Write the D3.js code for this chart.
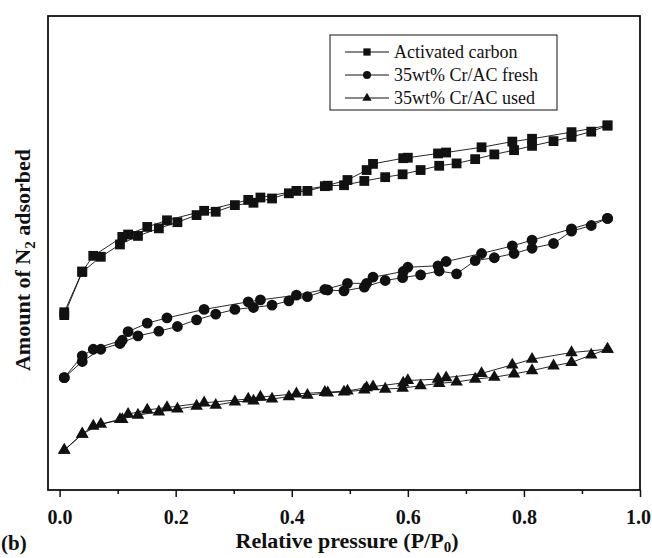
<!DOCTYPE html>
<html lang="en">
<head>
	<meta charset="UTF-8">
	<title>N2 isotherms</title>
	<style>
		body{margin:0;background:#fff;}
		text{font-family:"Liberation Serif","Times New Roman",serif;}
	</style>
</head>
<body>
</body>
<script src="https://cdn.jsdelivr.net/npm/d3@7/dist/d3.min.js"></script>
<script>
	// relative pressure of the adsorption (up) and desorption (down) points
	var adsP=[0.008,0.039,0.071,0.104,0.135,0.171,0.203,0.236,0.269,0.302,0.334,0.366,0.395,0.427,0.462,0.490,0.525,0.561,0.591,0.622,0.654,0.684,0.716,0.749,0.783,0.814,0.851,0.882,0.916,0.944];
	var desP=[0.944,0.882,0.814,0.780,0.727,0.666,0.652,0.600,0.592,0.540,0.529,0.496,0.457,0.408,0.346,0.325,0.249,0.185,0.151,0.118,0.108,0.058,0.039,0.008];

	// amount adsorbed, arbitrary units (no y scale in the original)
	var acAds=[36.9,46.0,49.2,51.8,53.6,55.2,56.5,58.0,58.7,60.1,60.6,61.5,62.6,63.1,64.2,64.3,65.2,66.0,66.6,67.5,68.4,68.9,69.8,70.8,71.7,72.6,73.6,74.5,75.6,76.9];
	var acDes=[76.9,75.5,74.1,73.5,72.3,71.2,71.0,70.1,70.0,68.8,67.5,65.4,64.1,63.1,61.7,61.2,58.9,56.9,55.5,53.9,53.4,49.4,46.1,37.5];
	var freshAds=[23.7,27.1,29.7,30.9,32.5,33.5,34.5,35.9,37.1,38.1,38.5,39.0,39.9,40.8,42.2,42.0,42.8,44.2,44.8,45.4,46.2,45.6,48.4,49.0,49.9,51.0,52.0,54.6,55.8,57.3];
	var freshDes=[57.3,55.1,52.7,51.5,49.9,48.2,47.3,47.0,46.1,44.9,43.6,43.6,42.3,41.1,40.1,39.7,38.1,36.3,35.2,33.4,31.6,29.7,28.3,23.7];
	var usedAds=[8.4,11.8,13.9,14.9,15.8,16.5,17.1,17.7,17.9,18.6,18.8,19.2,19.7,20.0,20.5,20.7,21.1,21.3,21.5,22.0,22.5,22.8,23.4,23.8,24.5,25.2,26.2,26.9,28.5,29.7];
	var usedDes=[29.7,29.0,27.6,26.4,24.6,23.7,23.4,23.1,22.6,21.8,21.6,20.9,20.6,20.3,19.6,19.2,18.4,17.4,16.9,16.0,14.9,13.5,11.8,8.4];

	var seriesNames=["Activated carbon","35wt% Cr/AC fresh","35wt% Cr/AC used"];
	var xTicks=[0,0.2,0.4,0.6,0.8,1.0];
	var xMinorTicks=[0.1,0.3,0.5,0.7,0.9];

	var width=652;
	var height=558;
	var plot={left:48,right:640,top:16,bottom:490};

	var svg=d3.select('body')
				.append('svg')
				.attr('width',width)
				.attr('height',height);

	var xScale=d3.scaleLinear()
				.domain([-0.02,1.0])
				.range([plot.left,plot.right]);
	var yScale=d3.scaleLinear()
				.domain([0,100])
				.range([plot.bottom,plot.top]);

	var series=[
		{name:seriesNames[0],shape:d3.symbolSquare,size:96,ads:acAds,des:acDes},
		{name:seriesNames[1],shape:d3.symbolCircle,size:92,ads:freshAds,des:freshDes},
		{name:seriesNames[2],shape:d3.symbolTriangle,size:68,ads:usedAds,des:usedDes}
	];

	var line=d3.line()
			.x(function(d){return xScale(d[0]);})
			.y(function(d){return yScale(d[1]);});

	series.forEach(function(s){
		var ads=adsP.map(function(p,i){return [p,s.ads[i]];});
		var des=desP.map(function(p,i){return [p,s.des[i]];});
		var g=svg.append('g');
		[ads,des].forEach(function(pts){
			g.append('path')
				.attr('d',line(pts))
				.attr('fill','none')
				.attr('stroke','#111')
				.attr('stroke-width',0.9);
		});
		g.selectAll('path.mk')
			.data(ads.concat(des))
			.enter()
			.append('path')
			.attr('class','mk')
			.attr('d',d3.symbol().type(s.shape).size(s.size))
			.attr('transform',function(d){
				return 'translate('+xScale(d[0])+','+yScale(d[1])+')';
			})
			.attr('fill','#111');
	});

	// frame
	svg.append('rect')
		.attr('x',plot.left)
		.attr('y',plot.top)
		.attr('width',plot.right-plot.left)
		.attr('height',plot.bottom-plot.top)
		.attr('fill','none')
		.attr('stroke','#111')
		.attr('stroke-width',1.8);

	var xAxis=d3.axisBottom(xScale)
			.tickValues(xTicks)
			.tickSize(7)
			.tickPadding(13)
			.tickFormat(d3.format('.1f'));
	var gx=svg.append('g')
			.attr('transform','translate(0,'+plot.bottom+')')
			.call(xAxis);
	gx.select('.domain').remove();
	gx.selectAll('line').attr('stroke','#111').attr('stroke-width',1.5);
	gx.selectAll('text')
		.attr('fill','#111')
		.style('font-family','"Liberation Serif",serif')
		.style('font-size','20px')
		.style('font-weight','bold');
	// last label sits against the right edge of the picture
	gx.selectAll('text').filter(function(d){return d===1;}).attr('dx',-2);

	var gxm=svg.append('g')
			.attr('transform','translate(0,'+plot.bottom+')')
			.call(d3.axisBottom(xScale).tickValues(xMinorTicks).tickSize(4).tickFormat(''));
	gxm.select('.domain').remove();
	gxm.selectAll('line').attr('stroke','#111').attr('stroke-width',1.5);

	// axis titles
	var xt=svg.append('text')
		.attr('x',347)
		.attr('y',548)
		.attr('text-anchor','middle')
		.style('font-size','22px')
		.style('font-weight','bold')
		.attr('fill','#111');
	xt.append('tspan').text('Relative pressure (P/P');
	xt.append('tspan').attr('dy',4).style('font-size','15px').text('0');
	xt.append('tspan').attr('dy',-4).text(')');

	var yt=svg.append('text')
		.attr('transform','translate(30,260) rotate(-90)')
		.attr('text-anchor','middle')
		.style('font-size','22px')
		.style('font-weight','bold')
		.attr('fill','#111');
	yt.append('tspan').text('Amount of N');
	yt.append('tspan').attr('dy',5).style('font-size','15px').text('2');
	yt.append('tspan').attr('dy',-5).text(' adsorbed');

	svg.append('text')
		.attr('x',1)
		.attr('y',550)
		.style('font-size','21px')
		.style('font-weight','bold')
		.attr('fill','#111')
		.text('(b)');

	// legend
	var legend=svg.append('g');
	legend.append('rect')
		.attr('x',330)
		.attr('y',35)
		.attr('width',227)
		.attr('height',75)
		.attr('fill','#fff')
		.attr('stroke','#111')
		.attr('stroke-width',1);
	var items=legend.selectAll('g.item')
		.data(series)
		.enter()
		.append('g')
		.attr('class','item')
		.attr('transform',function(d,i){return 'translate(0,'+(52+i*23)+')';});
	items.append('line')
		.attr('x1',345).attr('x2',389)
		.attr('y1',0).attr('y2',0)
		.attr('stroke','#111')
		.attr('stroke-width',1);
	items.append('path')
		.attr('d',function(d){return d3.symbol().type(d.shape).size(d.size*0.55)();})
		.attr('transform','translate(367,0)')
		.attr('fill','#111');
	items.append('text')
		.attr('x',394)
		.attr('y',6)
		.style('font-size','18px')
		.attr('fill','#111')
		.text(function(d){return d.name;});
</script>
</html>
